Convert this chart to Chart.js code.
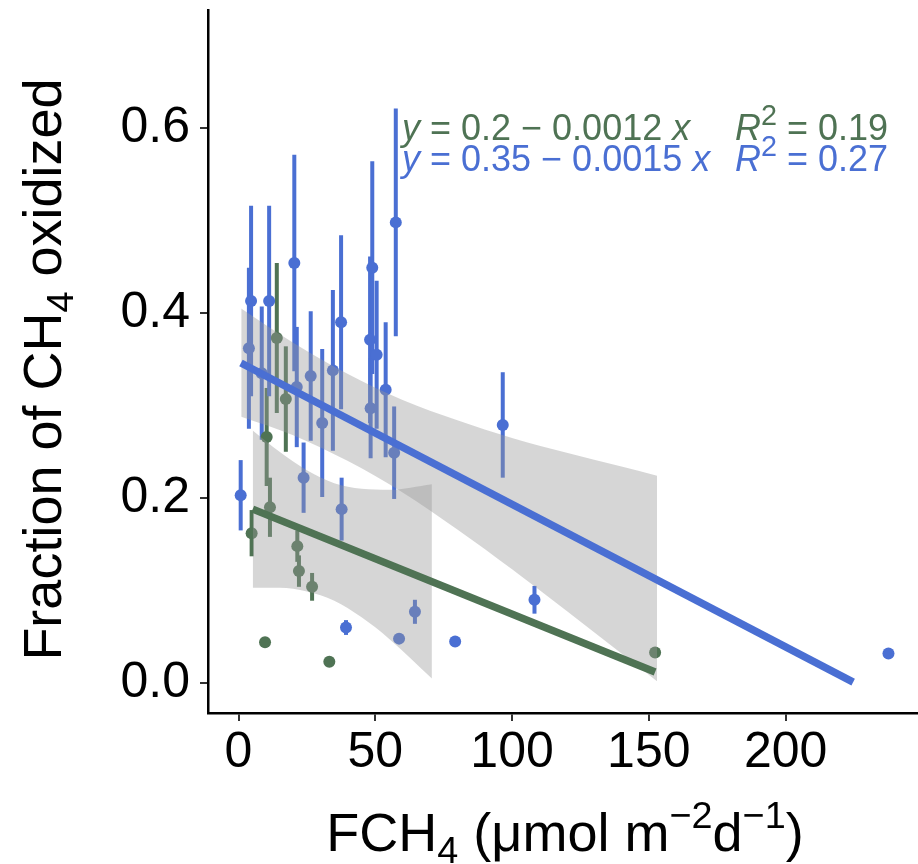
<!DOCTYPE html>
<html><head><meta charset="utf-8">
<script src="https://cdn.jsdelivr.net/npm/chart.js@4.4.1/dist/chart.umd.min.js"></script>
<style>html,body{margin:0;padding:0;background:#fff;}canvas{display:block}</style>
</head><body>
<canvas id="c" width="918" height="864"></canvas>
<script>
// ---- data ----
const xTicks = [0, 50, 100, 150, 200];
const yTicks = [0.0, 0.2, 0.4, 0.6];

const blueX   = [0.8, 4.6, 3.8, 11.2, 8.5, 20.4, 21.3, 23.8, 26.4, 30.6, 34.5, 37.5, 37.7, 39.3, 48.1, 48.3, 48.9, 50.5, 53.8, 56.9, 57.5, 58.7, 64.5, 79.2, 96.6, 108.2, 237.6];
const blueY   = [0.203, 0.413, 0.362, 0.413, 0.335, 0.454, 0.320, 0.222, 0.332, 0.281, 0.338, 0.390, 0.188, 0.060, 0.371, 0.297, 0.449, 0.355, 0.317, 0.249, 0.498, 0.048, 0.077, 0.045, 0.279, 0.090, 0.032];
const blueErr = [0.038, 0.103, 0.087, 0.103, 0.072, 0.117, 0.065, 0.038, 0.070, 0.080, 0.087, 0.094, 0.034, 0.008, 0.090, 0.054, 0.115, 0.080, 0.073, 0.050, 0.123, 0.005, 0.013, 0.000, 0.057, 0.015, 0.000];

const greenX   = [4.8, 9.7, 10.3, 11.5, 14.0, 17.3, 21.5, 22.1, 26.9, 33.2, 152.3];
const greenY   = [0.162, 0.044, 0.266, 0.190, 0.373, 0.307, 0.148, 0.121, 0.104, 0.023, 0.033];
const greenErr = [0.025, 0.000, 0.053, 0.032, 0.081, 0.057, 0.017, 0.017, 0.015, 0.000, 0.000];

const blueFitX  = [0.9, 224.7];
const blueFitY  = [0.346, 0.001];
const greenFitX = [5.2, 152.3];
const greenFitY = [0.188, 0.012];

const blueBandX  = [1, 20, 40, 60, 80, 100, 120, 140, 153];
const blueBandHi = [0.405, 0.368, 0.334, 0.306, 0.284, 0.265, 0.249, 0.234, 0.224];
const blueBandLo = [0.288, 0.268, 0.240, 0.206, 0.166, 0.123, 0.078, 0.032, 0.002];
const greenBandX  = [5.2, 15, 25, 35, 45, 55, 70.7];
const greenBandHi = [0.273, 0.250, 0.230, 0.216, 0.210, 0.209, 0.215];
const greenBandLo = [0.103, 0.103, 0.099, 0.089, 0.071, 0.048, 0.005];

const eqGreen = {eq: ' = 0.2 \u2212 0.0012 ', r2: ' = 0.19'};
const eqBlue  = {eq: ' = 0.35 \u2212 0.0015 ', r2: ' = 0.27'};

// ---- styles ----
const BLUE = '#4A6FD3';
const GREEN = '#4F7354';
const BAND = 'rgba(153,153,153,0.4)';
const FONT = '"Liberation Sans", Arial, sans-serif';

const pts = (xs, ys) => xs.map((x, i) => ({x: x, y: ys[i]}));

function drawRich(ctx, segs, x, y, size, align) {
  const widths = segs.map(s => {
    const fs = (s.sub || s.sup) ? size * (s.ss || 0.7) : size;
    ctx.font = (s.it ? 'italic ' : '') + fs + 'px ' + FONT;
    return ctx.measureText(s.t).width;
  });
  const total = widths.reduce((a, b) => a + b, 0);
  let cx = align === 'center' ? x - total / 2 : (align === 'right' ? x - total : x);
  segs.forEach((s, i) => {
    const fs = (s.sub || s.sup) ? size * (s.ss || 0.7) : size;
    ctx.font = (s.it ? 'italic ' : '') + fs + 'px ' + FONT;
    let dy = 0;
    if (s.sub) dy = size * 0.22;
    if (s.sup) dy = -size * 0.42;
    ctx.fillText(s.t, cx, y + dy);
    cx += widths[i];
  });
}

const errorBars = {
  id: 'errorBars',
  beforeDatasetsDraw(chart) {
    const ctx = chart.ctx, xs = chart.scales.x, ys = chart.scales.y;
    const a = chart.chartArea;
    ctx.save();
    ctx.beginPath(); ctx.rect(a.left, a.top, a.right - a.left, a.bottom - a.top); ctx.clip();
    ctx.lineWidth = 4;
    ctx.lineCap = 'butt';
    const draw = (X, Y, E, col) => {
      ctx.strokeStyle = col;
      X.forEach((x, i) => {
        if (!E[i]) return;
        const px = xs.getPixelForValue(x);
        ctx.beginPath();
        ctx.moveTo(px, ys.getPixelForValue(Y[i] - E[i]));
        ctx.lineTo(px, ys.getPixelForValue(Y[i] + E[i]));
        ctx.stroke();
      });
    };
    draw(greenX, greenY, greenErr, GREEN);
    draw(blueX, blueY, blueErr, BLUE);
    ctx.restore();
  }
};

const texts = {
  id: 'texts',
  afterDraw(chart) {
    const ctx = chart.ctx, a = chart.chartArea;
    ctx.save();
    ctx.textBaseline = 'alphabetic';
    const eqSize = 36;
    ctx.fillStyle = GREEN;
    drawRich(ctx, [{t: 'y', it: 1}, {t: eqGreen.eq}, {t: 'x', it: 1}], 402, 140, eqSize, 'left');
    drawRich(ctx, [{t: 'R', it: 1}, {t: '2', sup: 1, ss: 0.8}, {t: eqGreen.r2}], 888, 140, eqSize, 'right');
    ctx.fillStyle = BLUE;
    drawRich(ctx, [{t: 'y', it: 1}, {t: eqBlue.eq}, {t: 'x', it: 1}], 402, 171, eqSize, 'left');
    drawRich(ctx, [{t: 'R', it: 1}, {t: '2', sup: 1, ss: 0.8}, {t: eqBlue.r2}], 888, 171, eqSize, 'right');
    ctx.fillStyle = '#000';
    const tSize = 54;
    drawRich(ctx, [{t: 'FCH'}, {t: '4', sub: 1}, {t: ' (\u03bcmol m'}, {t: '\u22122', sup: 1}, {t: 'd'}, {t: '\u22121', sup: 1}, {t: ')'}],
      565, 851, tSize, 'center');
    ctx.translate(61, (a.top + a.bottom) / 2 + 8);
    ctx.rotate(-Math.PI / 2);
    drawRich(ctx, [{t: 'Fraction of CH'}, {t: '4', sub: 1}, {t: ' oxidized'}], 0, 0, tSize, 'center');
    ctx.restore();
  }
};

const lineDs = (label, X, Y, col, order) => ({
  type: 'line', label, data: pts(X, Y), borderColor: col, borderWidth: 7.5,
  borderCapStyle: 'butt', pointRadius: 0, fill: false, order, showLine: true
});
const bandDs = (label, X, Y, fill) => ({
  type: 'line', label, data: pts(X, Y), borderColor: 'rgba(0,0,0,0)', borderWidth: 0,
  backgroundColor: BAND, pointRadius: 0, fill, order: 1, showLine: true,
  cubicInterpolationMode: 'monotone'
});

new Chart(document.getElementById('c'), {
  type: 'scatter',
  data: {
    datasets: [
      lineDs('blue fit', blueFitX, blueFitY, BLUE, 0),
      lineDs('green fit', greenFitX, greenFitY, GREEN, 0),
      bandDs('blue band hi', blueBandX, blueBandHi, '+1'),
      bandDs('blue band lo', blueBandX, blueBandLo, false),
      bandDs('green band hi', greenBandX, greenBandHi, '+1'),
      bandDs('green band lo', greenBandX, greenBandLo, false),
      {type: 'scatter', label: 'blue', data: pts(blueX, blueY), backgroundColor: BLUE, borderWidth: 0, pointRadius: 6, order: 2},
      {type: 'scatter', label: 'green', data: pts(greenX, greenY), backgroundColor: GREEN, borderWidth: 0, pointRadius: 6, order: 2}
    ]
  },
  options: {
    responsive: false, animation: false, devicePixelRatio: 1,
    layout: {autoPadding: false, padding: {top: 10, right: 0, left: 0, bottom: 0}},
    plugins: {legend: {display: false}, tooltip: {enabled: false}},
    scales: {
      x: {
        type: 'linear', min: -11.15, max: 248.4,
        afterBuildTicks: s => { s.ticks = xTicks.map(v => ({value: v})); },
        afterFit: s => { s.height = 151; s.paddingLeft = 0; s.paddingRight = 0; },
        grid: {display: true, drawOnChartArea: false, drawTicks: true, tickLength: 8, color: '#333', lineWidth: 2},
        border: {display: true, color: '#000', width: 2.5},
        ticks: {font: {family: FONT, size: 50}, color: '#000', padding: 2, maxRotation: 0, autoSkip: false}
      },
      y: {
        type: 'linear', min: -0.0324, max: 0.7276,
        afterBuildTicks: s => { s.ticks = yTicks.map(v => ({value: v})); },
        afterFit: s => { s.width = 208; s.paddingTop = 0; s.paddingBottom = 0; },
        grid: {display: true, drawOnChartArea: false, drawTicks: true, tickLength: 8, color: '#333', lineWidth: 2},
        border: {display: true, color: '#000', width: 2.5},
        ticks: {font: {family: FONT, size: 50}, color: '#000', padding: 10, autoSkip: false,
                callback: v => Number(v).toFixed(1)}
      }
    }
  },
  plugins: [errorBars, texts]
});
</script>
</body></html>
